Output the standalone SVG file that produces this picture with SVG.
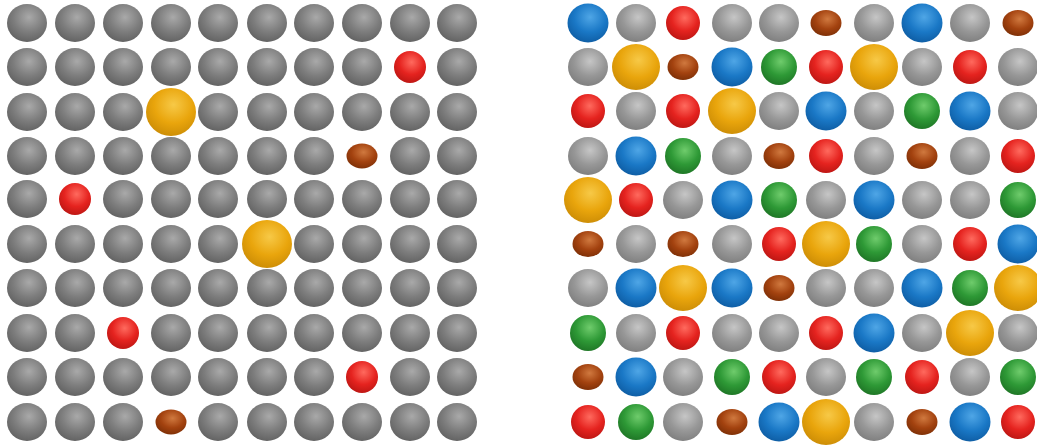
<svg xmlns="http://www.w3.org/2000/svg" width="1037" height="446" viewBox="0 0 1037 446">
<defs>
<radialGradient id="gL" cx="0.55" cy="0.35" r="0.7"><stop offset="0" stop-color="#a9a9a9"/><stop offset="0.55" stop-color="#7d7d7d"/><stop offset="1" stop-color="#5f5f5f"/></radialGradient>
<radialGradient id="gR" cx="0.55" cy="0.35" r="0.7"><stop offset="0" stop-color="#c6c6c6"/><stop offset="0.55" stop-color="#979797"/><stop offset="1" stop-color="#7c7c7c"/></radialGradient>
<radialGradient id="bl" cx="0.55" cy="0.35" r="0.7"><stop offset="0" stop-color="#4fa6e6"/><stop offset="0.55" stop-color="#1a78c6"/><stop offset="1" stop-color="#0d5aa0"/></radialGradient>
<radialGradient id="rd" cx="0.55" cy="0.35" r="0.7"><stop offset="0" stop-color="#ff6a5e"/><stop offset="0.55" stop-color="#e5231f"/><stop offset="1" stop-color="#b81512"/></radialGradient>
<radialGradient id="gn" cx="0.55" cy="0.35" r="0.7"><stop offset="0" stop-color="#6fcc6c"/><stop offset="0.55" stop-color="#2e9936"/><stop offset="1" stop-color="#1d7224"/></radialGradient>
<radialGradient id="br" cx="0.55" cy="0.35" r="0.7"><stop offset="0" stop-color="#d0793f"/><stop offset="0.55" stop-color="#a3420f"/><stop offset="1" stop-color="#7a2e06"/></radialGradient>
<radialGradient id="gd" cx="0.55" cy="0.35" r="0.7"><stop offset="0" stop-color="#f7c947"/><stop offset="0.55" stop-color="#e9a50c"/><stop offset="1" stop-color="#c98a05"/></radialGradient>
</defs>
<style>
.gL{fill:url(#gL)}.gR{fill:url(#gR)}.bl{fill:url(#bl)}.rd{fill:url(#rd)}.gn{fill:url(#gn)}.br{fill:url(#br)}.gd{fill:url(#gd)}
</style>
<rect width="1037" height="446" fill="#ffffff"/>
<g id="left-grid">
<!-- row 0 y=23 -->
<ellipse class="gL" cx="27" cy="23" rx="20" ry="19"/><ellipse class="gL" cx="75" cy="23" rx="20" ry="19"/><ellipse class="gL" cx="123" cy="23" rx="20" ry="19"/><ellipse class="gL" cx="171" cy="23" rx="20" ry="19"/><ellipse class="gL" cx="218" cy="23" rx="20" ry="19"/><ellipse class="gL" cx="267" cy="23" rx="20" ry="19"/><ellipse class="gL" cx="314" cy="23" rx="20" ry="19"/><ellipse class="gL" cx="362" cy="23" rx="20" ry="19"/><ellipse class="gL" cx="410" cy="23" rx="20" ry="19"/><ellipse class="gL" cx="457" cy="23" rx="20" ry="19"/>
<!-- row 1 y=67 -->
<ellipse class="gL" cx="27" cy="67" rx="20" ry="19"/><ellipse class="gL" cx="75" cy="67" rx="20" ry="19"/><ellipse class="gL" cx="123" cy="67" rx="20" ry="19"/><ellipse class="gL" cx="171" cy="67" rx="20" ry="19"/><ellipse class="gL" cx="218" cy="67" rx="20" ry="19"/><ellipse class="gL" cx="267" cy="67" rx="20" ry="19"/><ellipse class="gL" cx="314" cy="67" rx="20" ry="19"/><ellipse class="gL" cx="362" cy="67" rx="20" ry="19"/><ellipse class="rd" cx="410" cy="67" rx="16" ry="16"/><ellipse class="gL" cx="457" cy="67" rx="20" ry="19"/>
<!-- row 2 y=112 -->
<ellipse class="gL" cx="27" cy="112" rx="20" ry="19"/><ellipse class="gL" cx="75" cy="112" rx="20" ry="19"/><ellipse class="gL" cx="123" cy="112" rx="20" ry="19"/><ellipse class="gd" cx="171" cy="112" rx="25" ry="24"/><ellipse class="gL" cx="218" cy="112" rx="20" ry="19"/><ellipse class="gL" cx="267" cy="112" rx="20" ry="19"/><ellipse class="gL" cx="314" cy="112" rx="20" ry="19"/><ellipse class="gL" cx="362" cy="112" rx="20" ry="19"/><ellipse class="gL" cx="410" cy="112" rx="20" ry="19"/><ellipse class="gL" cx="457" cy="112" rx="20" ry="19"/>
<!-- row 3 y=156 -->
<ellipse class="gL" cx="27" cy="156" rx="20" ry="19"/><ellipse class="gL" cx="75" cy="156" rx="20" ry="19"/><ellipse class="gL" cx="123" cy="156" rx="20" ry="19"/><ellipse class="gL" cx="171" cy="156" rx="20" ry="19"/><ellipse class="gL" cx="218" cy="156" rx="20" ry="19"/><ellipse class="gL" cx="267" cy="156" rx="20" ry="19"/><ellipse class="gL" cx="314" cy="156" rx="20" ry="19"/><ellipse class="br" cx="362" cy="156" rx="15.5" ry="12.5"/><ellipse class="gL" cx="410" cy="156" rx="20" ry="19"/><ellipse class="gL" cx="457" cy="156" rx="20" ry="19"/>
<!-- row 4 y=199 -->
<ellipse class="gL" cx="27" cy="199" rx="20" ry="19"/><ellipse class="rd" cx="75" cy="199" rx="16" ry="16"/><ellipse class="gL" cx="123" cy="199" rx="20" ry="19"/><ellipse class="gL" cx="171" cy="199" rx="20" ry="19"/><ellipse class="gL" cx="218" cy="199" rx="20" ry="19"/><ellipse class="gL" cx="267" cy="199" rx="20" ry="19"/><ellipse class="gL" cx="314" cy="199" rx="20" ry="19"/><ellipse class="gL" cx="362" cy="199" rx="20" ry="19"/><ellipse class="gL" cx="410" cy="199" rx="20" ry="19"/><ellipse class="gL" cx="457" cy="199" rx="20" ry="19"/>
<!-- row 5 y=244 -->
<ellipse class="gL" cx="27" cy="244" rx="20" ry="19"/><ellipse class="gL" cx="75" cy="244" rx="20" ry="19"/><ellipse class="gL" cx="123" cy="244" rx="20" ry="19"/><ellipse class="gL" cx="171" cy="244" rx="20" ry="19"/><ellipse class="gL" cx="218" cy="244" rx="20" ry="19"/><ellipse class="gd" cx="267" cy="244" rx="25" ry="24"/><ellipse class="gL" cx="314" cy="244" rx="20" ry="19"/><ellipse class="gL" cx="362" cy="244" rx="20" ry="19"/><ellipse class="gL" cx="410" cy="244" rx="20" ry="19"/><ellipse class="gL" cx="457" cy="244" rx="20" ry="19"/>
<!-- row 6 y=288 -->
<ellipse class="gL" cx="27" cy="288" rx="20" ry="19"/><ellipse class="gL" cx="75" cy="288" rx="20" ry="19"/><ellipse class="gL" cx="123" cy="288" rx="20" ry="19"/><ellipse class="gL" cx="171" cy="288" rx="20" ry="19"/><ellipse class="gL" cx="218" cy="288" rx="20" ry="19"/><ellipse class="gL" cx="267" cy="288" rx="20" ry="19"/><ellipse class="gL" cx="314" cy="288" rx="20" ry="19"/><ellipse class="gL" cx="362" cy="288" rx="20" ry="19"/><ellipse class="gL" cx="410" cy="288" rx="20" ry="19"/><ellipse class="gL" cx="457" cy="288" rx="20" ry="19"/>
<!-- row 7 y=333 -->
<ellipse class="gL" cx="27" cy="333" rx="20" ry="19"/><ellipse class="gL" cx="75" cy="333" rx="20" ry="19"/><ellipse class="rd" cx="123" cy="333" rx="16" ry="16"/><ellipse class="gL" cx="171" cy="333" rx="20" ry="19"/><ellipse class="gL" cx="218" cy="333" rx="20" ry="19"/><ellipse class="gL" cx="267" cy="333" rx="20" ry="19"/><ellipse class="gL" cx="314" cy="333" rx="20" ry="19"/><ellipse class="gL" cx="362" cy="333" rx="20" ry="19"/><ellipse class="gL" cx="410" cy="333" rx="20" ry="19"/><ellipse class="gL" cx="457" cy="333" rx="20" ry="19"/>
<!-- row 8 y=377 -->
<ellipse class="gL" cx="27" cy="377" rx="20" ry="19"/><ellipse class="gL" cx="75" cy="377" rx="20" ry="19"/><ellipse class="gL" cx="123" cy="377" rx="20" ry="19"/><ellipse class="gL" cx="171" cy="377" rx="20" ry="19"/><ellipse class="gL" cx="218" cy="377" rx="20" ry="19"/><ellipse class="gL" cx="267" cy="377" rx="20" ry="19"/><ellipse class="gL" cx="314" cy="377" rx="20" ry="19"/><ellipse class="rd" cx="362" cy="377" rx="16" ry="16"/><ellipse class="gL" cx="410" cy="377" rx="20" ry="19"/><ellipse class="gL" cx="457" cy="377" rx="20" ry="19"/>
<!-- row 9 y=422 -->
<ellipse class="gL" cx="27" cy="422" rx="20" ry="19"/><ellipse class="gL" cx="75" cy="422" rx="20" ry="19"/><ellipse class="gL" cx="123" cy="422" rx="20" ry="19"/><ellipse class="br" cx="171" cy="422" rx="15.5" ry="12.5"/><ellipse class="gL" cx="218" cy="422" rx="20" ry="19"/><ellipse class="gL" cx="267" cy="422" rx="20" ry="19"/><ellipse class="gL" cx="314" cy="422" rx="20" ry="19"/><ellipse class="gL" cx="362" cy="422" rx="20" ry="19"/><ellipse class="gL" cx="410" cy="422" rx="20" ry="19"/><ellipse class="gL" cx="457" cy="422" rx="20" ry="19"/>
</g>
<g id="right-grid">
<!-- row 0 -->
<ellipse class="bl" cx="588" cy="23" rx="20.5" ry="19.5"/><ellipse class="gR" cx="636" cy="23" rx="20" ry="19"/><ellipse class="rd" cx="683" cy="23" rx="17" ry="17"/><ellipse class="gR" cx="732" cy="23" rx="20" ry="19"/><ellipse class="gR" cx="779" cy="23" rx="20" ry="19"/><ellipse class="br" cx="826" cy="23" rx="15.5" ry="13"/><ellipse class="gR" cx="874" cy="23" rx="20" ry="19"/><ellipse class="bl" cx="922" cy="23" rx="20.5" ry="19.5"/><ellipse class="gR" cx="970" cy="23" rx="20" ry="19"/><ellipse class="br" cx="1018" cy="23" rx="15.5" ry="13"/>
<!-- row 1 -->
<ellipse class="gR" cx="588" cy="67" rx="20" ry="19"/><ellipse class="gd" cx="636" cy="67" rx="24" ry="23"/><ellipse class="br" cx="683" cy="67" rx="15.5" ry="13"/><ellipse class="bl" cx="732" cy="67" rx="20.5" ry="19.5"/><ellipse class="gn" cx="779" cy="67" rx="18" ry="18"/><ellipse class="rd" cx="826" cy="67" rx="17" ry="17"/><ellipse class="gd" cx="874" cy="67" rx="24" ry="23"/><ellipse class="gR" cx="922" cy="67" rx="20" ry="19"/><ellipse class="rd" cx="970" cy="67" rx="17" ry="17"/><ellipse class="gR" cx="1018" cy="67" rx="20" ry="19"/>
<!-- row 2 -->
<ellipse class="rd" cx="588" cy="111" rx="17" ry="17"/><ellipse class="gR" cx="636" cy="111" rx="20" ry="19"/><ellipse class="rd" cx="683" cy="111" rx="17" ry="17"/><ellipse class="gd" cx="732" cy="111" rx="24" ry="23"/><ellipse class="gR" cx="779" cy="111" rx="20" ry="19"/><ellipse class="bl" cx="826" cy="111" rx="20.5" ry="19.5"/><ellipse class="gR" cx="874" cy="111" rx="20" ry="19"/><ellipse class="gn" cx="922" cy="111" rx="18" ry="18"/><ellipse class="bl" cx="970" cy="111" rx="20.5" ry="19.5"/><ellipse class="gR" cx="1018" cy="111" rx="20" ry="19"/>
<!-- row 3 -->
<ellipse class="gR" cx="588" cy="156" rx="20" ry="19"/><ellipse class="bl" cx="636" cy="156" rx="20.5" ry="19.5"/><ellipse class="gn" cx="683" cy="156" rx="18" ry="18"/><ellipse class="gR" cx="732" cy="156" rx="20" ry="19"/><ellipse class="br" cx="779" cy="156" rx="15.5" ry="13"/><ellipse class="rd" cx="826" cy="156" rx="17" ry="17"/><ellipse class="gR" cx="874" cy="156" rx="20" ry="19"/><ellipse class="br" cx="922" cy="156" rx="15.5" ry="13"/><ellipse class="gR" cx="970" cy="156" rx="20" ry="19"/><ellipse class="rd" cx="1018" cy="156" rx="17" ry="17"/>
<!-- row 4 -->
<ellipse class="gd" cx="588" cy="200" rx="24" ry="23"/><ellipse class="rd" cx="636" cy="200" rx="17" ry="17"/><ellipse class="gR" cx="683" cy="200" rx="20" ry="19"/><ellipse class="bl" cx="732" cy="200" rx="20.5" ry="19.5"/><ellipse class="gn" cx="779" cy="200" rx="18" ry="18"/><ellipse class="gR" cx="826" cy="200" rx="20" ry="19"/><ellipse class="bl" cx="874" cy="200" rx="20.5" ry="19.5"/><ellipse class="gR" cx="922" cy="200" rx="20" ry="19"/><ellipse class="gR" cx="970" cy="200" rx="20" ry="19"/><ellipse class="gn" cx="1018" cy="200" rx="18" ry="18"/>
<!-- row 5 -->
<ellipse class="br" cx="588" cy="244" rx="15.5" ry="13"/><ellipse class="gR" cx="636" cy="244" rx="20" ry="19"/><ellipse class="br" cx="683" cy="244" rx="15.5" ry="13"/><ellipse class="gR" cx="732" cy="244" rx="20" ry="19"/><ellipse class="rd" cx="779" cy="244" rx="17" ry="17"/><ellipse class="gd" cx="826" cy="244" rx="24" ry="23"/><ellipse class="gn" cx="874" cy="244" rx="18" ry="18"/><ellipse class="gR" cx="922" cy="244" rx="20" ry="19"/><ellipse class="rd" cx="970" cy="244" rx="17" ry="17"/><ellipse class="bl" cx="1018" cy="244" rx="20.5" ry="19.5"/>
<!-- row 6 -->
<ellipse class="gR" cx="588" cy="288" rx="20" ry="19"/><ellipse class="bl" cx="636" cy="288" rx="20.5" ry="19.5"/><ellipse class="gd" cx="683" cy="288" rx="24" ry="23"/><ellipse class="bl" cx="732" cy="288" rx="20.5" ry="19.5"/><ellipse class="br" cx="779" cy="288" rx="15.5" ry="13"/><ellipse class="gR" cx="826" cy="288" rx="20" ry="19"/><ellipse class="gR" cx="874" cy="288" rx="20" ry="19"/><ellipse class="bl" cx="922" cy="288" rx="20.5" ry="19.5"/><ellipse class="gn" cx="970" cy="288" rx="18" ry="18"/><ellipse class="gd" cx="1018" cy="288" rx="24" ry="23"/>
<!-- row 7 -->
<ellipse class="gn" cx="588" cy="333" rx="18" ry="18"/><ellipse class="gR" cx="636" cy="333" rx="20" ry="19"/><ellipse class="rd" cx="683" cy="333" rx="17" ry="17"/><ellipse class="gR" cx="732" cy="333" rx="20" ry="19"/><ellipse class="gR" cx="779" cy="333" rx="20" ry="19"/><ellipse class="rd" cx="826" cy="333" rx="17" ry="17"/><ellipse class="bl" cx="874" cy="333" rx="20.5" ry="19.5"/><ellipse class="gR" cx="922" cy="333" rx="20" ry="19"/><ellipse class="gd" cx="970" cy="333" rx="24" ry="23"/><ellipse class="gR" cx="1018" cy="333" rx="20" ry="19"/>
<!-- row 8 -->
<ellipse class="br" cx="588" cy="377" rx="15.5" ry="13"/><ellipse class="bl" cx="636" cy="377" rx="20.5" ry="19.5"/><ellipse class="gR" cx="683" cy="377" rx="20" ry="19"/><ellipse class="gn" cx="732" cy="377" rx="18" ry="18"/><ellipse class="rd" cx="779" cy="377" rx="17" ry="17"/><ellipse class="gR" cx="826" cy="377" rx="20" ry="19"/><ellipse class="gn" cx="874" cy="377" rx="18" ry="18"/><ellipse class="rd" cx="922" cy="377" rx="17" ry="17"/><ellipse class="gR" cx="970" cy="377" rx="20" ry="19"/><ellipse class="gn" cx="1018" cy="377" rx="18" ry="18"/>
<!-- row 9 -->
<ellipse class="rd" cx="588" cy="422" rx="17" ry="17"/><ellipse class="gn" cx="636" cy="422" rx="18" ry="18"/><ellipse class="gR" cx="683" cy="422" rx="20" ry="19"/><ellipse class="br" cx="732" cy="422" rx="15.5" ry="13"/><ellipse class="bl" cx="779" cy="422" rx="20.5" ry="19.5"/><ellipse class="gd" cx="826" cy="422" rx="24" ry="23"/><ellipse class="gR" cx="874" cy="422" rx="20" ry="19"/><ellipse class="br" cx="922" cy="422" rx="15.5" ry="13"/><ellipse class="bl" cx="970" cy="422" rx="20.5" ry="19.5"/><ellipse class="rd" cx="1018" cy="422" rx="17" ry="17"/>
</g>
</svg>
